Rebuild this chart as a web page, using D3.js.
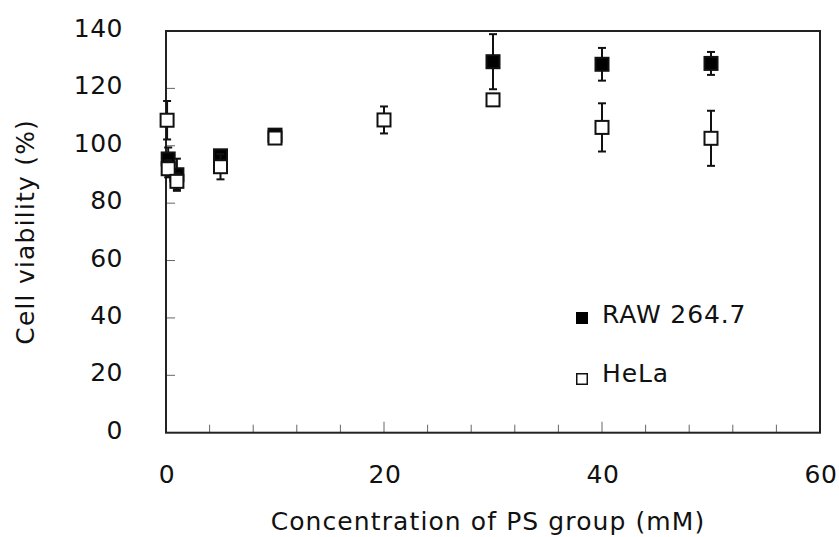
<!DOCTYPE html>
<html>
<head>
<meta charset="utf-8">
<script src="https://cdn.jsdelivr.net/npm/d3@7"></script>
<style>
  html, body { margin: 0; padding: 0; background: #fff; }
  svg { display: block; }
  text { font-family: "DejaVu Sans", Verdana, sans-serif; fill: #111; }
</style>
</head>
<body>
<svg id="chart" width="839" height="537"></svg>
<script>
// ---- data ----
const rawX   = [0.2, 1, 5, 10, 30, 40, 50];
const rawY   = [95.4, 89.9, 96.5, 103.7, 129.3, 128.4, 128.7];
const rawErr = [4.0, 5.6, 1.5, 1.5, 9.6, 5.7, 4.0];

const helaX   = [0.1, 0.2, 1, 5, 10, 20, 30, 40, 50];
const helaY   = [108.9, 92.0, 87.6, 92.7, 102.7, 109.0, 116.0, 106.4, 102.6];
const helaErr = [6.7, 3.0, 2.8, 4.4, 1.5, 4.7, 1.0, 8.4, 9.6];

const xTicks = [0, 20, 40, 60];
const xMinorTicks = d3.range(0, 61, 4);
const yTicks = [0, 20, 40, 60, 80, 100, 120, 140];

const legendLabels = ["RAW 264.7", "HeLa"];
const xTitle = "Concentration of PS group (mM)";
const yTitle = "Cell viability (%)";

// ---- layout ----
const svg = d3.select("#chart");
const pL = 166, pR = 820, pT = 31, pB = 432.7;

const x = d3.scaleLinear().domain([0, 60]).range([pL, pR]);
const y = d3.scaleLinear().domain([0, 140]).range([pB, pT]);

// minor x ticks (inside, pointing up)
svg.append("g")
  .selectAll("line")
  .data(xMinorTicks.filter(d => d % 20 !== 0))
  .join("line")
  .attr("x1", d => x(d)).attr("x2", d => x(d))
  .attr("y1", pB).attr("y2", pB - 8)
  .attr("stroke", "#666").attr("stroke-width", 1);

// major x ticks
svg.append("g")
  .selectAll("line")
  .data(xTicks.filter(d => d > 0 && d < 60))
  .join("line")
  .attr("x1", d => x(d)).attr("x2", d => x(d))
  .attr("y1", pB).attr("y2", pB - 11)
  .attr("stroke", "#666").attr("stroke-width", 1);

// y ticks (inside, pointing right)
svg.append("g")
  .selectAll("line")
  .data(yTicks.filter(d => d > 0 && d < 140))
  .join("line")
  .attr("x1", pL).attr("x2", pL + 9)
  .attr("y1", d => y(d)).attr("y2", d => y(d))
  .attr("stroke", "#666").attr("stroke-width", 1);

// frame
svg.append("rect")
  .attr("x", pL).attr("y", pT)
  .attr("width", pR - pL).attr("height", pB - pT)
  .attr("fill", "none").attr("stroke", "#222").attr("stroke-width", 2);

// tick labels
svg.append("g")
  .selectAll("text")
  .data(xTicks)
  .join("text")
  .attr("x", d => x(d) + 1)
  .attr("y", 483)
  .attr("text-anchor", "middle")
  .attr("font-size", 25)
  .attr("letter-spacing", 0.5)
  .text(d => d);

svg.append("g")
  .selectAll("text")
  .data(yTicks)
  .join("text")
  .attr("x", 123)
  .attr("y", d => y(d) + 6)
  .attr("text-anchor", "end")
  .attr("font-size", 25)
  .attr("letter-spacing", 0.5)
  .text(d => d);

// axis titles
svg.append("text")
  .attr("x", 488).attr("y", 530)
  .attr("text-anchor", "middle")
  .attr("font-size", 25)
  .attr("letter-spacing", 1.1)
  .text(xTitle);

svg.append("text")
  .attr("transform", `translate(34, ${(pT + pB) / 2}) rotate(-90)`)
  .attr("text-anchor", "middle")
  .attr("font-size", 25)
  .attr("letter-spacing", 1.2)
  .text(yTitle);

// error bars + markers
function drawSeries(xs, ys, es, filled) {
  const g = svg.append("g");
  const pts = xs.map((d, i) => ({x: d, y: ys[i], e: es[i]}));
  const eb = g.append("g").selectAll("g").data(pts).join("g");
  eb.append("line")
    .attr("x1", d => x(d.x)).attr("x2", d => x(d.x))
    .attr("y1", d => y(d.y + d.e)).attr("y2", d => y(d.y - d.e))
    .attr("stroke", "#111").attr("stroke-width", 2);
  [1, -1].forEach(s => {
    eb.append("line")
      .attr("x1", d => x(d.x) - 4).attr("x2", d => x(d.x) + 4)
      .attr("y1", d => y(d.y + s * d.e)).attr("y2", d => y(d.y + s * d.e))
      .attr("stroke", "#111").attr("stroke-width", 2);
  });
  g.append("g").selectAll("rect").data(pts).join("rect")
    .attr("x", d => x(d.x) - 6.5).attr("y", d => y(d.y) - 6.5)
    .attr("width", 13).attr("height", 13)
    .attr("fill", filled ? "#000" : "#fff")
    .attr("stroke", "#111").attr("stroke-width", 2);
}
drawSeries(rawX, rawY, rawErr, true);
drawSeries(helaX, helaY, helaErr, false);

// legend
const leg = svg.append("g");
leg.append("rect").attr("x", 576).attr("y", 312).attr("width", 12).attr("height", 12)
  .attr("fill", "#000");
leg.append("rect").attr("x", 576.75).attr("y", 373.75).attr("width", 10.5).attr("height", 10.5)
  .attr("fill", "#fff").attr("stroke", "#111").attr("stroke-width", 1.5);
leg.selectAll("text").data(legendLabels).join("text")
  .attr("x", 602)
  .attr("y", (d, i) => i === 0 ? 323 : 382)
  .attr("font-size", 25)
  .attr("letter-spacing", 0.9)
  .text(d => d);
</script>
</body>
</html>
